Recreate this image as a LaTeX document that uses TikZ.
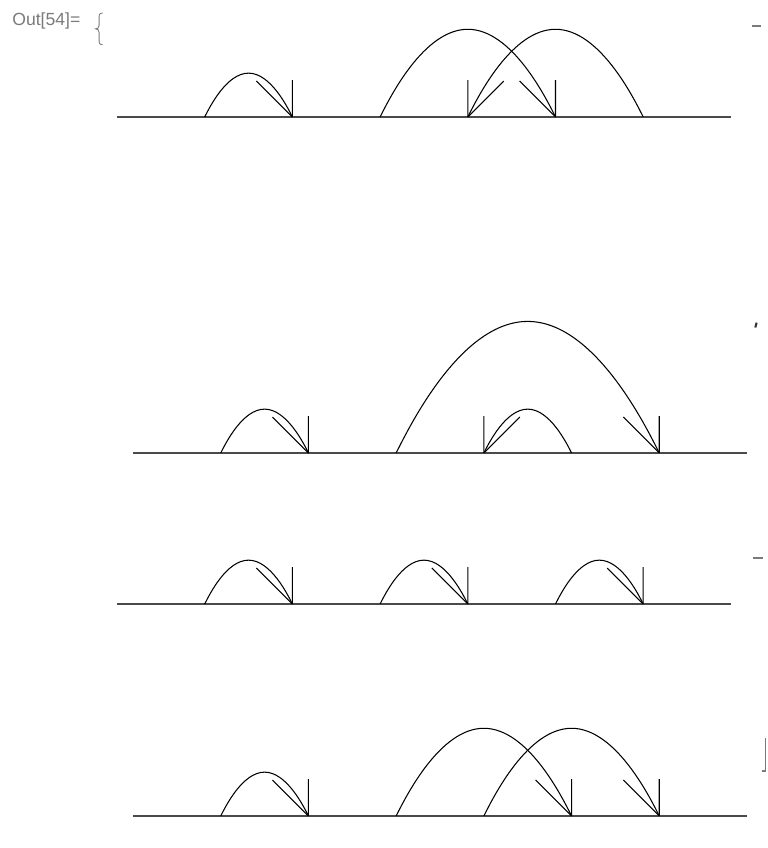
\documentclass[tikz,border=0pt]{standalone}
\usepackage{fontspec}
\setmainfont{Liberation Sans}
\usepackage{tikz}
\usetikzlibrary{positioning}
\definecolor{outgray}{HTML}{7A7A7A}
\definecolor{axisgray}{HTML}{4A4A4A}
\tikzset{
  axisline/.style={axisgray,line width=0.85pt},
  hop/.style={black,line width=0.6pt},
  cropmark/.style={outgray,line width=0.9pt}
}
\newcommand{\hopend}[2]{\draw[hop] (#1,0) -- ++(0,0.42) (#1,0) -- ++(#2*0.41,0.41);}

\begin{document}
\begin{tikzpicture}[x=1.754cm,y=1.754cm]
  \useasboundingbox (0,0) rectangle (8.746,9.669);
  \node[font=\fontsize{10}{12}\selectfont,text=outgray,anchor=west,inner sep=0pt] (outlabel) at (0.137,9.43) {Out[54]=};
  \draw[outgray,line width=0.5pt] (1.17,9.52) .. controls (1.13,9.52) and (1.13,9.50) .. (1.13,9.46) -- (1.13,9.38)
    .. controls (1.13,9.35) and (1.11,9.34) .. (1.09,9.34) .. controls (1.11,9.34) and (1.13,9.33) .. (1.13,9.30)
    -- (1.13,9.22) .. controls (1.13,9.18) and (1.13,9.16) .. (1.17,9.16);
  % cut-off pieces at the right edge
  \draw[cropmark] (8.575,9.373) -- (8.677,9.373);
  \draw[cropmark,black!80,line width=1.2pt] (8.612,5.935) -- (8.627,5.99);
  \draw[cropmark] (8.586,3.307) -- (8.700,3.307);
  \draw[cropmark] (8.73,1.254) -- (8.73,0.878) -- (8.69,0.878);

  % row 1
  \begin{scope}[shift={(1.334,8.335)}]
    \draw[axisline] (0,0) -- (7,0);
    \draw[hop] (1,0) parabola bend (1.5,0.5) (2,0); \hopend{2}{-1}
    \draw[hop] (3,0) parabola bend (4,1) (5,0); \hopend{5}{-1}
    \draw[hop] (6,0) parabola bend (5,1) (4,0); \hopend{4}{1}
  \end{scope}
  % row 2
  \begin{scope}[shift={(1.517,4.504)}]
    \draw[axisline] (0,0) -- (7,0);
    \draw[hop] (1,0) parabola bend (1.5,0.5) (2,0); \hopend{2}{-1}
    \draw[hop] (3,0) parabola bend (4.5,1.5) (6,0); \hopend{6}{-1}
    \draw[hop] (5,0) parabola bend (4.5,0.5) (4,0); \hopend{4}{1}
  \end{scope}
  % row 3
  \begin{scope}[shift={(1.334,2.782)}]
    \draw[axisline] (0,0) -- (7,0);
    \foreach \k in {1,3,5}{
      \draw[hop] (\k,0) parabola bend (\k+0.5,0.5) (\k+1,0); \hopend{\k+1}{-1}
    }
  \end{scope}
  % row 4
  \begin{scope}[shift={(1.517,0.365)}]
    \draw[axisline] (0,0) -- (7,0);
    \draw[hop] (1,0) parabola bend (1.5,0.5) (2,0); \hopend{2}{-1}
    \draw[hop] (3,0) parabola bend (4,1) (5,0); \hopend{5}{-1}
    \draw[hop] (4,0) parabola bend (5,1) (6,0); \hopend{6}{-1}
  \end{scope}
\end{tikzpicture}
\end{document}
